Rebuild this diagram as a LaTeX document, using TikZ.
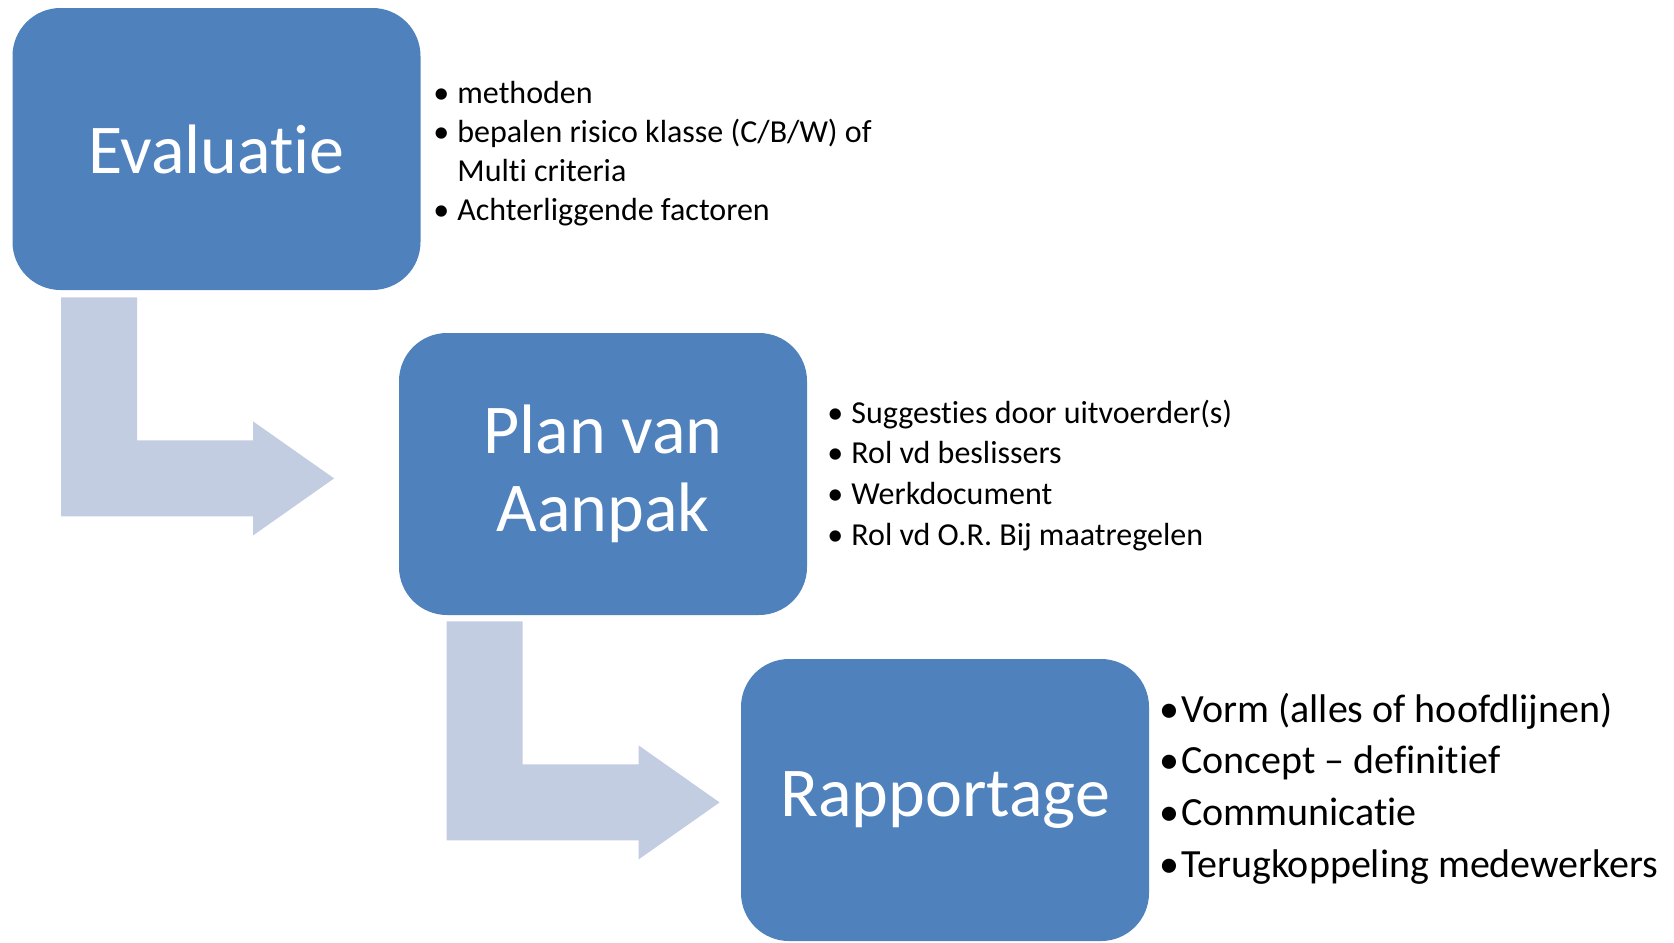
\documentclass[tikz,border=0pt]{standalone}
\usepackage{fontspec}
\setmainfont{Carlito}[RawFeature={-liga}]
\usetikzlibrary{positioning}

\definecolor{stageblue}{RGB}{79,129,189}
\definecolor{arrowgrey}{RGB}{195,205,226}

\newcommand{\itm}[1]{\makebox[#1][l]{\textbullet}}
\newcommand{\bentarrow}[1]{%
  \fill[bendarrow] (#1) -- ++(76,0) -- ++(0,143) -- ++(116,0) -- ++(0,-19)
    -- ++(81,57) -- ++(-81,57) -- ++(0,-19) -- ++(-192,0) -- cycle;}

\tikzset{
  stage/.style={fill=stageblue, rounded corners=24pt, minimum width=204pt,
    minimum height=141pt, inner sep=0pt, text=white, align=center,
    font=\fontsize{35}{39}\selectfont},
  bendarrow/.style={fill=arrowgrey},
  smallitem/.style={anchor=base west, inner sep=0pt, font=\fontsize{16}{19}\selectfont},
  bigitem/.style={anchor=base west, inner sep=0pt, font=\fontsize{20}{24}\selectfont}
}

\begin{document}
\begin{tikzpicture}[x=0.5pt, y=-0.5pt]
  \useasboundingbox (0,0) rectangle (1674,942);

  % the three stages
  \node[stage] (eval) at (216.5,149) {Evaluatie};
  \node[stage] (plan) at (603,474) {Plan van\\Aanpak};
  \node[stage] (rapp) at (945,800) {Rapportage};

  % bent arrows between the stages
  \coordinate (evalarrow) at ([xshift=24.5pt, yshift=-3.5pt]eval.south west);
  \coordinate (planarrow) at ([xshift=24pt, yshift=-3pt]plan.south west);
  \bentarrow{evalarrow}
  \bentarrow{planarrow}

  % bullet lists
  \foreach \txt [count=\k] in {{\itm{12pt}methoden},
      {\itm{12pt}bepalen risico klasse (C/B/W) of},
      {\hspace*{12pt}Multi criteria},
      {\itm{12pt}Achterliggende factoren}}
    \node[smallitem] (evalitem\k) at (433, 103+39.3*\k-39.3) {\txt};

  \foreach \txt [count=\k] in {{Suggesties door uitvoerder(s)},
      {Rol vd beslissers}, {Werkdocument}, {Rol vd O.R. Bij maatregelen}}
    \node[smallitem] (planitem\k) at (827, 423+40.7*\k-40.7) {\itm{12pt}\txt};

  \foreach \txt [count=\k] in {{Vorm (alles of hoofdlijnen)},
      {Concept – definitief}, {Communicatie}, {Terugkoppeling medewerkers}}
    \node[bigitem] (rappitem\k) at (1159, 722+51.8*\k-51.8) {\itm{11pt}\txt};
\end{tikzpicture}
\end{document}
